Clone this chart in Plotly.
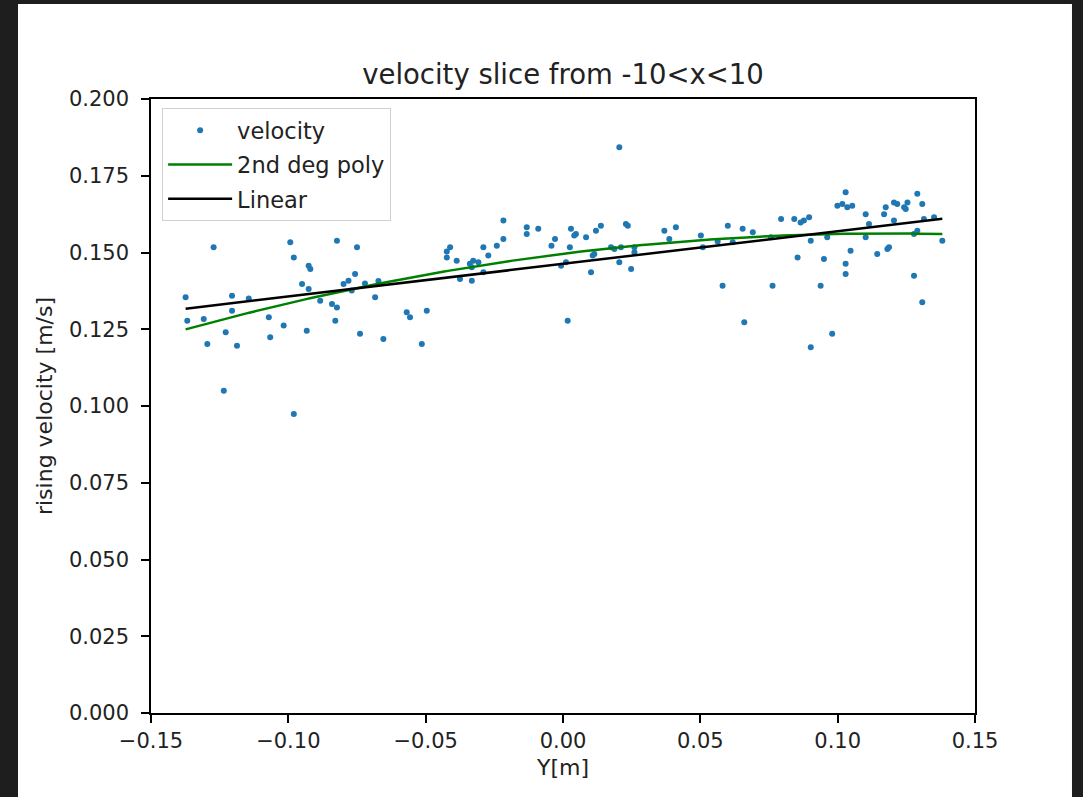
import numpy as np
import plotly.graph_objects as go

# Measured vertical bubble velocity across the slice
y_pos = [
    -0.1374, -0.1272, -0.1368, -0.1308, -0.1205, -0.1205, -0.1144, -0.1228, -0.1295, -0.1187,
    -0.1071, -0.1066, -0.1017, -0.0933, -0.0993, -0.0980, -0.0926, -0.0920, -0.0950, -0.0926,
    -0.0884, -0.0841, -0.0823, -0.0829, -0.0823, -0.0799, -0.0781, -0.1235, -0.0980, -0.0750,
    -0.0757, -0.0769, -0.0721, -0.0672, -0.0684, -0.0739, -0.0654, -0.0569, -0.0557, -0.0496,
    -0.0514, -0.0423, -0.0411, -0.0423, -0.0387, -0.0375, -0.0332, -0.0339, -0.0327, -0.0308,
    -0.0332, -0.0290, -0.0272, -0.0290, -0.0241, -0.0217, -0.0217, -0.0132, -0.0132, -0.0090,
    -0.0029, -0.0042, 0.0025, -0.0007, 0.0011, 0.0029, 0.0047, 0.0041, 0.0084, 0.0120,
    0.0138, 0.0114, 0.0108, 0.0102, 0.0175, 0.0187, 0.0211, 0.0205, 0.0248, 0.0229,
    0.0236, 0.0260, 0.0260, 0.0205, 0.0017, 0.0369, 0.0387, 0.0411, 0.0502, 0.0509,
    0.0563, 0.0600, 0.0618, 0.0654, 0.0581, 0.0660, 0.0691, 0.0794, 0.0842, 0.0865,
    0.0877, 0.0896, 0.0902, 0.0854, 0.0950, 0.0938, 0.0902, 0.0980, 0.0962, 0.0999,
    0.1017, 0.1035, 0.1053, 0.1029, 0.1029, 0.1029, 0.1047, 0.1102, 0.1114, 0.1102,
    0.1144, 0.1175, 0.1169, 0.1181, 0.1187, 0.1205, 0.1217, 0.1205, 0.1242, 0.1248,
    0.1254, 0.1290, 0.1308, 0.1278, 0.1290, 0.1314, 0.1351, 0.1381, 0.1278, 0.1308,
    0.0763, 0.0757,
]
velocity = [
    0.1354, 0.1517, 0.1278, 0.1283, 0.1359, 0.1310, 0.1350, 0.1240, 0.1202, 0.1196,
    0.1289, 0.1224, 0.1262, 0.1245, 0.1533, 0.1484, 0.1457, 0.1446, 0.1397, 0.1381,
    0.1343, 0.1332, 0.1321, 0.1278, 0.1538, 0.1397, 0.1408, 0.1050, 0.0974, 0.1517,
    0.1430, 0.1376, 0.1399, 0.1407, 0.1354, 0.1235, 0.1218, 0.1305, 0.1289, 0.1310,
    0.1202, 0.1503, 0.1517, 0.1484, 0.1473, 0.1414, 0.1408, 0.1463, 0.1473, 0.1468,
    0.1452, 0.1517, 0.1490, 0.1436, 0.1522, 0.1544, 0.1604, 0.1582, 0.1560, 0.1577,
    0.1544, 0.1522, 0.1517, 0.1457, 0.1468, 0.1577, 0.1560, 0.1555, 0.1550, 0.1571,
    0.1587, 0.1495, 0.1490, 0.1436, 0.1517, 0.1511, 0.1517, 0.1468, 0.1446, 0.1593,
    0.1587, 0.1517, 0.1501, 0.1843, 0.1278, 0.1571, 0.1544, 0.1582, 0.1555, 0.1517,
    0.1536, 0.1587, 0.1533, 0.1577, 0.1392, 0.1273, 0.1566, 0.1609, 0.1609, 0.1598,
    0.1604, 0.1615, 0.1538, 0.1484, 0.1479, 0.1392, 0.1191, 0.1235, 0.1550, 0.1652,
    0.1658, 0.1647, 0.1652, 0.1696, 0.1463, 0.1430, 0.1506, 0.1625, 0.1593, 0.1550,
    0.1495, 0.1647, 0.1625, 0.1511, 0.1517, 0.1663, 0.1658, 0.1604, 0.1647, 0.1642,
    0.1663, 0.1691, 0.1658, 0.1560, 0.1571, 0.1609, 0.1615, 0.1538, 0.1424, 0.1338,
    0.1392, 0.1550,
]

x_ticks = [-0.15, -0.10, -0.05, 0.00, 0.05, 0.10, 0.15]
x_tick_text = ["\u22120.15", "\u22120.10", "\u22120.05", "0.00", "0.05", "0.10", "0.15"]
y_ticks = [0.000, 0.025, 0.050, 0.075, 0.100, 0.125, 0.150, 0.175, 0.200]
y_tick_text = ["0.000", "0.025", "0.050", "0.075", "0.100", "0.125", "0.150", "0.175", "0.200"]

# Least-squares fits of the measured profile
yp = np.array(y_pos)
vel = np.array(velocity)
grid = np.linspace(yp.min(), yp.max(), 200)
quad = np.polyval(np.polyfit(yp, vel, 2), grid)
lin = np.polyval(np.polyfit(yp, vel, 1), grid)

FONT = "DejaVu Sans, Liberation Sans, sans-serif"

fig = go.Figure()
fig.add_trace(go.Scatter(
    x=y_pos, y=velocity, mode="markers", name="velocity", legendgroup="a",
    marker=dict(color="#1f77b4", size=6, line=dict(width=0)),
))
fig.add_trace(go.Scatter(
    x=grid, y=quad, mode="lines", name="2nd deg poly", legendgroup="b",
    line=dict(color="#008000", width=2.5),
))
fig.add_trace(go.Scatter(
    x=grid, y=lin, mode="lines", name="Linear", legendgroup="c",
    line=dict(color="#000000", width=2.5),
))

# dark frame around the white canvas
fig.add_shape(type="rect", xref="paper", yref="paper",
              x0=-0.1614, x1=1.1177, y0=-0.1368, y1=1.1547,
              fillcolor="white", line=dict(width=0), layer="below")

axis_common = dict(
    showgrid=False, zeroline=False, showline=True, mirror=True,
    linecolor="black", linewidth=1.5, ticks="outside", ticklen=8,
    tickwidth=1.5, tickcolor="black",
    tickfont=dict(family=FONT, size=21, color="#222"),
)

fig.update_layout(
    width=1083, height=797,
    margin=dict(l=151, r=108, t=99, b=84),
    paper_bgcolor="#1e1e1e", plot_bgcolor="white",
    title=dict(text="velocity slice from -10<x<10", x=0.5, xref="paper",
               xanchor="center", y=1 - 74 / 797, yref="container", yanchor="middle",
               font=dict(family=FONT, size=27.5, color="#222")),
    xaxis=dict(range=[-0.15, 0.15], tickvals=x_ticks, ticktext=x_tick_text,
               ticklabelstandoff=0,
               title=dict(text="Y[m]", font=dict(family=FONT, size=22, color="#222"), standoff=8),
               **axis_common),
    yaxis=dict(range=[0, 0.2], tickvals=y_ticks, ticktext=y_tick_text,
               ticklabelstandoff=8,
               title=dict(text="rising velocity [m/s]", font=dict(family=FONT, size=22, color="#222"), standoff=10),
               **axis_common),
    legend=dict(x=0.0135, y=0.985, xanchor="left", yanchor="top",
                bgcolor="white", bordercolor="#d0d0d0", borderwidth=1,
                font=dict(family=FONT, size=22.5, color="#222"),
                itemwidth=64, tracegroupgap=2),
    showlegend=True,
)

fig.write_html("out.html")
